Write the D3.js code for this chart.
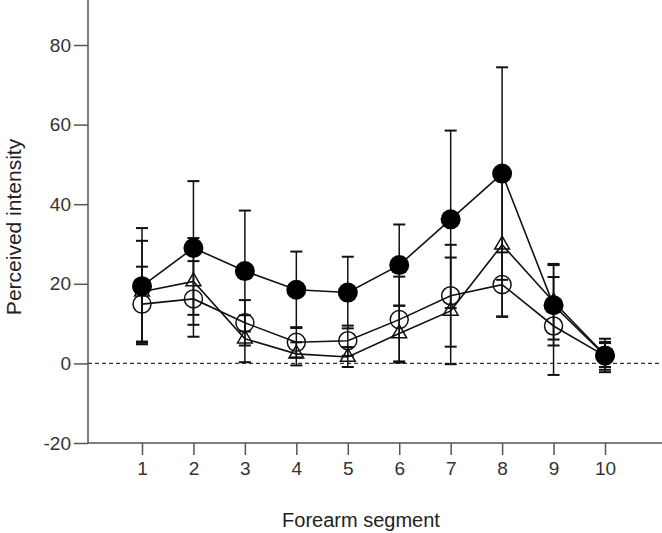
<!DOCTYPE html>
<html><head><meta charset="utf-8">
<script src="https://cdn.jsdelivr.net/npm/d3@7"></script>
<style>html,body{margin:0;padding:0;background:#fff;}svg{display:block;}</style>
</head><body>
<svg id="chart" width="662" height="533"></svg>
<script>
const segments = [1,2,3,4,5,6,7,8,9,10];
const yTicks = [-20,0,20,40,60,80];
const filledMean = [19.4, 29.0, 23.2, 18.5, 17.8, 24.7, 36.2, 47.7, 14.6, 2.0];
const filledErr  = [14.6, 16.8, 15.2, 9.6, 9.0, 10.2, 22.3, 26.7, 10.1, 4.2];
const openMean   = [14.9, 16.2, 10.2, 5.3, 5.7, 11.0, 17.0, 19.8, 9.4, 1.9];
const openErr    = [9.4, 9.5, 5.7, 3.8, 3.8, 10.8, 12.8, 8.1, 12.3, 3.5];
const triMean    = [18.0, 20.6, 6.2, 2.4, 1.6, 7.5, 13.2, 29.8, 15.5, 2.1];
const triErr     = [12.8, 10.9, 5.9, 2.9, 2.5, 7.0, 13.4, 18.0, 9.5, 3.0];
const xTitle = "Forearm segment";
const yTitle = "Perceived intensity";

const svg = d3.select("#chart");
const font = "'Liberation Sans', Arial, sans-serif";
const x = d3.scaleLinear().domain([1,10]).range([142,605]);
const y = d3.scaleLinear().domain([-20,80]).range([443,45]);
const axisColor = "#555";
const fmt = d => String(d);

// y axis
const yAx = svg.append("g").attr("transform","translate(88,0)")
  .call(d3.axisLeft(y).tickValues(yTicks).tickSize(14).tickPadding(3).tickFormat(fmt));
yAx.select(".domain").remove();
yAx.selectAll("line").attr("stroke",axisColor).attr("stroke-width",1.5);
yAx.selectAll("text").attr("font-family",font).attr("font-size",19).attr("fill","#333");
svg.append("line").attr("x1",88).attr("x2",88).attr("y1",0).attr("y2",y(-20))
  .attr("stroke",axisColor).attr("stroke-width",1.5);

// x axis
const xAx = svg.append("g").attr("transform",`translate(0,${y(-20)})`)
  .call(d3.axisBottom(x).tickValues(segments).tickSize(12).tickPadding(7).tickFormat(fmt));
xAx.select(".domain").remove();
xAx.selectAll("line").attr("stroke",axisColor).attr("stroke-width",1.5);
xAx.selectAll("text").attr("font-family",font).attr("font-size",19).attr("fill","#333");
svg.append("line").attr("x1",88).attr("x2",662).attr("y1",y(-20)).attr("y2",y(-20))
  .attr("stroke",axisColor).attr("stroke-width",1.5);

// zero reference line
svg.append("line").attr("x1",88).attr("x2",662).attr("y1",y(0)).attr("y2",y(0))
  .attr("stroke","#333").attr("stroke-width",1.3).attr("stroke-dasharray","4,3");

// titles
svg.append("text").attr("x",361).attr("y",527).attr("text-anchor","middle")
  .attr("font-family",font).attr("font-size",20).attr("fill","#222").text(xTitle);
svg.append("text").attr("transform","translate(21,227) rotate(-90)").attr("text-anchor","middle")
  .attr("font-family",font).attr("font-size",21).attr("fill","#222").text(yTitle);

const series = [
  {mean: triMean, err: triErr, kind: "tri"},
  {mean: openMean, err: openErr, kind: "open"},
  {mean: filledMean, err: filledErr, kind: "filled"}
];
const line = d3.line().x((d,i)=>x(segments[i])).y(d=>y(d));

series.forEach(s=>{
  svg.append("path").datum(s.mean).attr("d",line).attr("fill","none")
    .attr("stroke","#111").attr("stroke-width",1.6);
});
series.forEach(s=>{
  const g = svg.append("g").attr("stroke","#111").attr("stroke-width",1.5);
  s.mean.forEach((m,i)=>{
    const cx = x(segments[i]), hi = y(m + s.err[i]), lo = y(m - s.err[i]);
    g.append("line").attr("x1",cx).attr("x2",cx).attr("y1",hi).attr("y2",lo);
    g.append("line").attr("x1",cx-6).attr("x2",cx+6).attr("y1",hi).attr("y2",hi).attr("stroke-width",2);
    g.append("line").attr("x1",cx-6).attr("x2",cx+6).attr("y1",lo).attr("y2",lo).attr("stroke-width",2);
  });
});
series.forEach(s=>{
  const g = svg.append("g");
  s.mean.forEach((m,i)=>{
    const cx = x(segments[i]), cy = y(m);
    if (s.kind === "filled") {
      g.append("circle").attr("cx",cx).attr("cy",cy).attr("r",10).attr("fill","#000");
    } else if (s.kind === "open") {
      g.append("circle").attr("cx",cx).attr("cy",cy).attr("r",9).attr("fill","none")
        .attr("stroke","#111").attr("stroke-width",1.5);
    } else {
      g.append("path").attr("d",d3.symbol(d3.symbolTriangle,95)())
        .attr("transform",`translate(${cx},${cy})`).attr("fill","none")
        .attr("stroke","#111").attr("stroke-width",1.5);
    }
  });
});
</script>
</body></html>
